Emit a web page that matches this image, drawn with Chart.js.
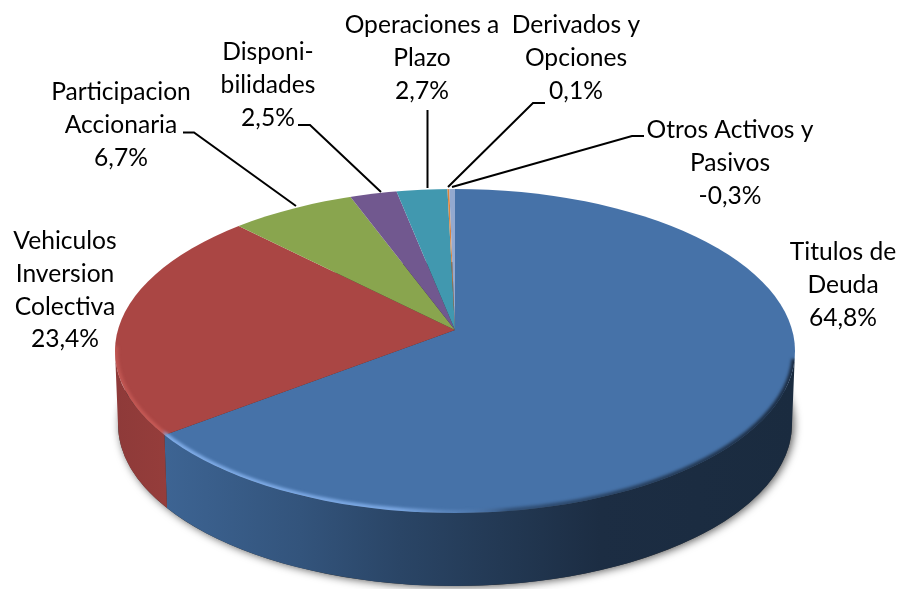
<!DOCTYPE html>
<html><head><meta charset="utf-8">
<style>html,body{margin:0;padding:0;background:#fff;overflow:hidden}canvas{display:block}</style>
<script src="https://cdn.jsdelivr.net/npm/chart.js@4/dist/chart.umd.js"></script>
</head><body><canvas id="c" width="900" height="589"></canvas>
<script>
const categories = [
  ["Titulos de","Deuda"],
  ["Vehiculos","Inversion","Colectiva"],
  ["Participacion","Accionaria"],
  ["Disponi-","bilidades"],
  ["Operaciones a","Plazo"],
  ["Derivados y","Opciones"],
  ["Otros Activos y","Pasivos"]
];
const shares = [64.8, 23.4, 6.7, 2.5, 2.7, 0.1, -0.3];
const sliceColors = ["#4672a8","#aa4644","#89a54e","#71588f","#4198af","#db843d","#93a9cf"];

const labelCenters = [[843,252],[65,241],[121,92],[268,52],[422,25],[576,25],[730,130]];
const lineGap = 32.8;
const leaders = [
  null,
  null,
  [[183,132.5],[194,132.5],[296,206]],
  [[298,125],[310,125],[381,192]],
  [[427.5,110],[427.5,188]],
  [[448,187],[533,103],[545,103]],
  [[452,187],[632,136],[644,136]]
];
const A = {x:455, y:330};           // apex of the slices
const E = {x:455, y:351, rx:340, ry:162}; // outline of the top face
const B = {x:455, y:424, rx:337, ry:162}; // outline of the base
const OVER = 1.4, FLAT = 0.465;
const shadeStops = [[115,.84],[165,.88],[300,.74],[400,.61],[500,.5],[600,.4],[795,.38]];

function mult(hex,f){
  const n=parseInt(hex.slice(1),16);
  return `rgb(${((n>>16)&255)*f|0},${((n>>8)&255)*f|0},${(n&255)*f|0})`;
}
function rayToT(a){
  const dx=Math.cos(a), dy=Math.sin(a)*FLAT;
  const ox=(A.x-E.x)/E.rx, oy=(A.y-E.y)/E.ry, ux=dx/E.rx, uy=dy/E.ry;
  const qa=ux*ux+uy*uy, qb=2*(ox*ux+oy*uy), qc=ox*ox+oy*oy-1;
  const s=(-qb+Math.sqrt(qb*qb-4*qa*qc))/(2*qa);
  return Math.atan2(oy+s*uy, ox+s*ux);
}
function rimPath(ctx){ctx.beginPath();ctx.ellipse(E.x,E.y,E.rx,E.ry,0,0,Math.PI*2);}

const pie3d = {
  id:'pie3d',
  beforeDatasetsDraw(chart){
    const ctx=chart.ctx, arcs=chart.getDatasetMeta(0).data;
    // soft shadow under the drum
    ctx.save();
    ctx.shadowColor='rgba(0,0,0,.65)';ctx.shadowBlur=8;ctx.shadowOffsetX=2;ctx.shadowOffsetY=1;
    ctx.fillStyle='#333';
    ctx.beginPath();
    ctx.ellipse(B.x,B.y,B.rx,B.ry,0,0,Math.PI*2);
    ctx.fill();
    ctx.restore();
    // side wall of each slice that faces the viewer
    arcs.forEach((arc,i)=>{
      let t0=rayToT(arc.startAngle), t1=rayToT(arc.endAngle);
      while(t1<t0)t1+=Math.PI*2;
      const lo=Math.max(t0,0), hi=Math.min(t1,Math.PI);
      if(lo>=hi)return;
      const g=ctx.createLinearGradient(115,0,795,0);
      shadeStops.forEach(([x,f])=>g.addColorStop((x-115)/680,mult(sliceColors[i],f)));
      ctx.fillStyle=g;
      ctx.beginPath();
      ctx.ellipse(E.x,E.y,E.rx,E.ry,0,lo,hi,false);
      ctx.ellipse(B.x,B.y,B.rx,B.ry,0,hi,lo,true);
      ctx.closePath();ctx.fill();
    });
    // top face: library arcs, tilted about the apex and trimmed to the outline
    const a0=arcs[0];
    const R=a0.outerRadius, sx=E.rx*OVER/R, sy=sx*FLAT;
    ctx.save();
    rimPath(ctx);ctx.clip();
    ctx.translate(A.x,A.y);ctx.scale(sx,sy);ctx.translate(-a0.x,-a0.y);
  },
  afterDatasetsDraw(chart){
    const ctx=chart.ctx;
    ctx.restore();
    // bevel on the rim of the top face
    ctx.save();
    rimPath(ctx);ctx.clip();
    ctx.filter='blur(1.5px)';
    const g=ctx.createLinearGradient(115,0,795,0);
    g.addColorStop(0,'rgba(205,95,90,.6)');
    g.addColorStop(.07,'rgba(205,95,90,.85)');
    g.addColorStop(.075,'rgba(130,175,235,.95)');
    g.addColorStop(.42,'rgba(130,175,235,.85)');
    g.addColorStop(.52,'rgba(110,150,205,.25)');
    g.addColorStop(.58,'rgba(25,40,60,.45)');
    g.addColorStop(1,'rgba(25,40,60,.95)');
    ctx.strokeStyle=g;ctx.lineWidth=6;
    ctx.beginPath();ctx.ellipse(E.x,E.y,E.rx,E.ry,0,.05,Math.PI+.03,false);ctx.stroke();
    ctx.restore();
    // leader lines
    ctx.strokeStyle='#000';ctx.lineWidth=2;
    leaders.forEach(p=>{ if(!p)return;
      ctx.beginPath();p.forEach(([x,y],k)=>k?ctx.lineTo(x,y):ctx.moveTo(x,y));ctx.stroke();});
    // labels
    ctx.fillStyle='#000';ctx.font='24.6px Lato, Carlito, sans-serif';
    ctx.textAlign='center';ctx.textBaseline='middle';
    categories.forEach((lines,i)=>{
      const [x,y]=labelCenters[i];
      const txt=[...lines, shares[i].toFixed(1).replace('.',',')+'%'];
      txt.forEach((s,k)=>ctx.fillText(s,x,y+k*lineGap));
    });
  }
};
new Chart(document.getElementById('c'),{
  type:'pie',
  data:{labels:categories.map(l=>l.join(' ')),datasets:[{data:shares,backgroundColor:sliceColors,borderWidth:0,clip:false}]},
  options:{responsive:false,animation:false,rotation:0,
    plugins:{legend:{display:false},tooltip:{enabled:false},title:{display:false}}},
  plugins:[pie3d]
});
</script></body></html>
